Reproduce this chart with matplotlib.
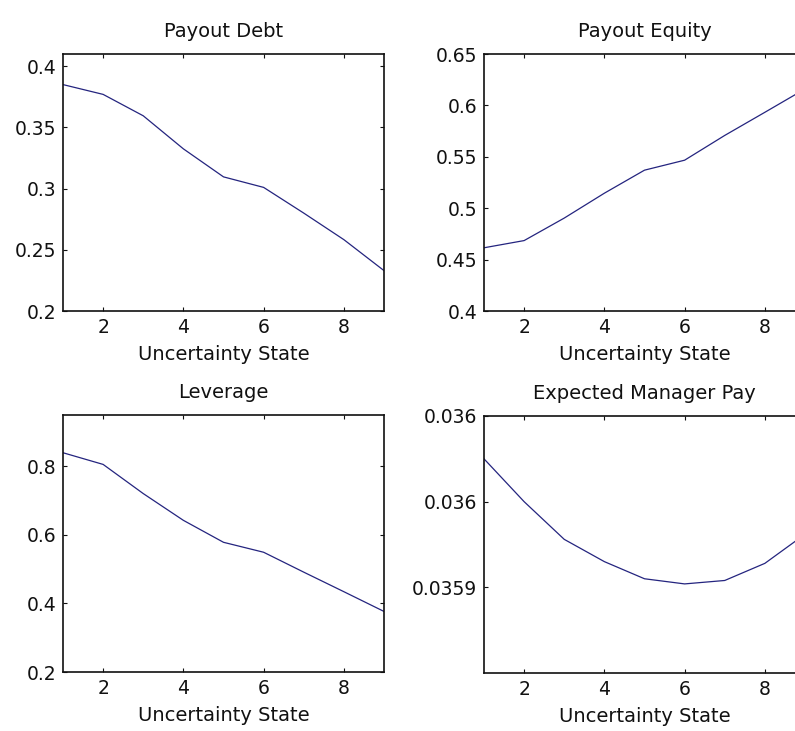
import matplotlib
matplotlib.use("Agg")
import matplotlib.pyplot as plt
from matplotlib.ticker import FixedLocator, FixedFormatter

# Uncertainty states 1..9
states = [1, 2, 3, 4, 5, 6, 7, 8, 9]

payout_debt = [0.385, 0.377, 0.3595, 0.3325, 0.3096, 0.301, 0.280, 0.2583, 0.233]
payout_equity = [0.4615, 0.4685, 0.4904, 0.5146, 0.537, 0.5467, 0.5708, 0.5933, 0.616]
leverage = [0.839, 0.805, 0.720, 0.642, 0.578, 0.549, 0.491, 0.434, 0.3765]
manager_pay = [0.035975, 0.035950, 0.035928, 0.035915, 0.035905, 0.035902,
               0.035904, 0.035914, 0.035931]

debt_ticks = [0.2, 0.25, 0.3, 0.35, 0.4]
debt_labels = ["0.2", "0.25", "0.3", "0.35", "0.4"]
equity_ticks = [0.4, 0.45, 0.5, 0.55, 0.6, 0.65]
equity_labels = ["0.4", "0.45", "0.5", "0.55", "0.6", "0.65"]
lev_ticks = [0.2, 0.4, 0.6, 0.8]
lev_labels = ["0.2", "0.4", "0.6", "0.8"]
pay_ticks = [0.03590, 0.03595, 0.03600]
pay_labels = ["0.0359", "0.036", "0.036"]
x_ticks = [2, 4, 6, 8]

line_color = "#24247f"
W, H = 795, 731

fig = plt.figure(figsize=(W / 100, H / 100), dpi=100, facecolor="white")


def make_axes(left, top, right, bottom):
    # pixel box -> figure fraction
    return fig.add_axes([left / W, 1 - bottom / H, (right - left) / W, (bottom - top) / H])


panels = [
    ((63, 54, 384, 311), "Payout Debt", payout_debt, (0.2, 0.41), debt_ticks, debt_labels),
    ((484, 54, 805, 311), "Payout Equity", payout_equity, (0.4, 0.65), equity_ticks, equity_labels),
    ((63, 415, 384, 672), "Leverage", leverage, (0.2, 0.949), lev_ticks, lev_labels),
    ((484, 416, 805, 673), "Expected Manager Pay", manager_pay, (0.03585, 0.03600), pay_ticks, pay_labels),
]

for box, title, values, ylim, yticks, ylabels in panels:
    ax = make_axes(*box)
    ax.plot(states, values, color=line_color, linewidth=0.9)
    ax.set_xlim(1, 9)
    ax.set_ylim(*ylim)
    ax.xaxis.set_major_locator(FixedLocator(x_ticks))
    ax.yaxis.set_major_locator(FixedLocator(yticks))
    ax.yaxis.set_major_formatter(FixedFormatter(ylabels))
    ax.tick_params(direction="in", length=3, width=0.8, top=True, right=True,
                   labelsize=13.5, pad=5, colors="#111111")
    for sp in ax.spines.values():
        sp.set_linewidth(1.2)
        sp.set_color("#111111")
    ax.set_title(title, fontsize=14, pad=12, color="#111111")
    ax.set_xlabel("Uncertainty State", fontsize=14, labelpad=6, color="#111111")

fig.savefig("out.png", dpi=100)
